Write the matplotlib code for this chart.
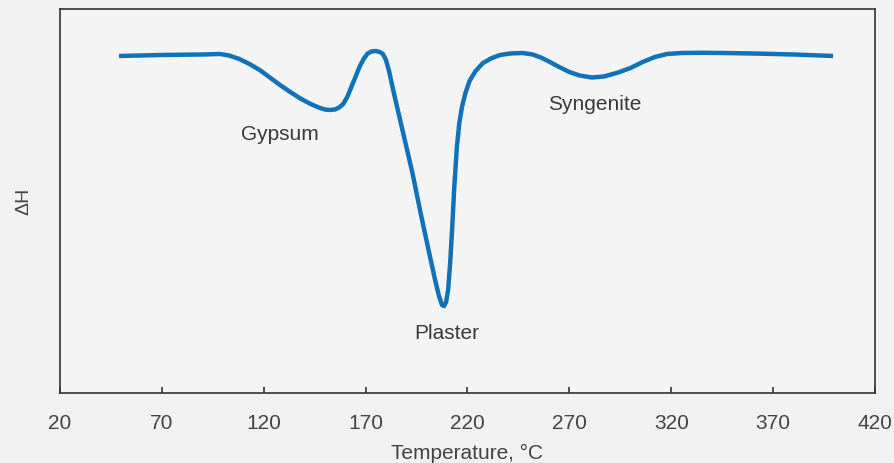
import matplotlib
matplotlib.use('Agg')
import matplotlib.pyplot as plt

plt.rcParams['font.family'] = ['Liberation Sans', 'DejaVu Sans']

# temperatura (C) ir deltaH (santykiniai vienetai), nuskaityta nuo grafiko
temperatura = [49, 70, 90, 98.5, 103, 108, 113, 118, 123, 128, 133, 138, 143, 147, 150,
               152.5, 155, 157, 159, 161, 163, 165, 167, 169, 171, 173, 175, 177, 178.5,
               180, 181.5, 183, 185, 189, 193, 197, 201, 204, 206, 207.5, 208.5, 209.5,
               210.5, 211.5, 212.5, 213.5, 214.8, 216, 217.3, 219, 221, 224, 227.6, 232,
               236, 241, 247, 252, 256, 260, 265, 270, 275, 281, 287, 294, 300, 306, 312,
               318, 325, 335, 345, 360, 380, 399.4]
delta_h = [337, 338, 338.5, 339, 337.5, 334, 329, 323, 315.5, 308, 301, 294.5, 289, 285.5, 283.5,
           283, 283.5, 285.5, 289, 296, 306, 316, 326, 334, 339.5, 341.5, 342, 341, 339,
           333, 322, 308, 290, 255, 220, 180, 142, 114, 97, 88, 87, 91,
           103, 130, 165, 205, 246, 270, 286, 300, 312, 322, 330, 335,
           338, 339.5, 340, 338.5, 335.5, 331.5, 326, 321, 317.5, 315.5, 316.5, 320.5, 325, 331, 336,
           339, 340, 340.2, 340, 339.5, 338.5, 337]

x_ticks = [20, 70, 120, 170, 220, 270, 320, 370, 420]

zymos = ['Gypsum', 'Plaster', 'Syngenite']
zymu_x = [128, 210, 282.6]
zymu_y = [258, 59, 288]

fig = plt.figure(figsize=(8.94, 4.63), dpi=100, facecolor='#f1f1f1')

ax = fig.add_axes([0.0671, 0.1512, 0.9116, 0.8294])
ax.set_facecolor('#f4f4f4')

ax.plot(temperatura, delta_h, color='#1272b8', linewidth=3.2,
        solid_joinstyle='round', solid_capstyle='butt')

for zyma, x, y in zip(zymos, zymu_x, zymu_y):
    ax.text(x, y, zyma, ha='center', va='center', fontsize=15, color='#3a3a3a')

ax.set_xlim(20, 420)
ax.set_ylim(0, 384)
ax.set_xticks(x_ticks)
ax.set_yticks([])
ax.tick_params(axis='x', direction='in', length=4, width=1.2, color='#333333',
               labelsize=15, labelcolor='#444444', pad=15)
for sp in ax.spines.values():
    sp.set_color('#333333')
    sp.set_linewidth(1.2)

ax.set_xlabel('Temperature, °C', fontsize=15, color='#444444', labelpad=8)
ax.set_ylabel('ΔH', fontsize=14, color='#444444', labelpad=20)

fig.savefig('out.png', dpi=100, facecolor=fig.get_facecolor())
